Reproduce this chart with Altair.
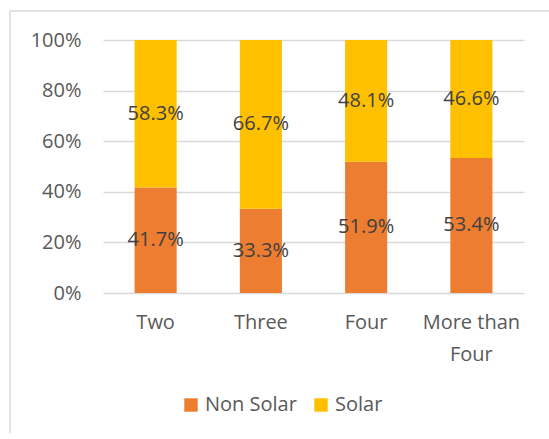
import altair as alt
import pandas as pd

# Share of households by number of members, split by solar adoption
categories = ["Two", "Three", "Four", "More than Four"]
non_solar = [41.7, 33.3, 51.9, 53.4]
solar = [58.3, 66.7, 48.1, 46.6]
series = ["Non Solar", "Solar"]
colors = ["#ED7D31", "#FFC000"]
y_ticks = [0, 0.2, 0.4, 0.6, 0.8, 1.0]

rows = []
for i, cat in enumerate(categories):
    base = 0.0
    for k, (name, vals) in enumerate(zip(series, [non_solar, solar])):
        v = vals[i] / 100
        rows.append({
            "category": cat,
            "series": name,
            "order": k,
            "start": base,
            "end": base + v,
            "mid": base + v / 2,
            "label": f"{vals[i]:.1f}%",
        })
        base += v
df = pd.DataFrame(rows)

FONT = "Open Sans"
SIZE = 20

x_enc = alt.X(
    "category:N",
    sort=categories,
    scale=alt.Scale(paddingInner=0.6, paddingOuter=0.3),
    axis=alt.Axis(
        title=None,
        labelAngle=0,
        ticks=False,
        domain=False,
        labelPadding=19,
        labelFontSize=SIZE,
        labelColor="#595959",
        labelFont=FONT,
        labelLineHeight=32,
        labelExpr="datum.label == 'More than Four' ? ['More than', 'Four'] : datum.label",
    ),
)

bars = alt.Chart(df).mark_bar().encode(
    x=x_enc,
    y=alt.Y(
        "start:Q",
        scale=alt.Scale(domain=[0, 1]),
        axis=alt.Axis(
            title=None,
            values=y_ticks,
            format=".0%",
            ticks=False,
            domain=False,
            labelPadding=22,
            labelFontSize=SIZE,
            labelColor="#595959",
            labelFont=FONT,
            gridColor="#D9D9D9",
            gridWidth=1.5,
        ),
    ),
    y2="end:Q",
    color=alt.Color(
        "series:N",
        scale=alt.Scale(domain=series, range=colors),
        legend=alt.Legend(
            title=None,
            orient="none",
            direction="horizontal",
            legendX=78,
            legendY=355,
            symbolType="square",
            symbolSize=180,
            symbolStrokeWidth=0,
            labelFontSize=SIZE,
            labelColor="#595959",
            labelFont=FONT,
            columnPadding=14,
            labelOffset=4,
        ),
    ),
    order="order:Q",
)

labels = alt.Chart(df).mark_text(
    fontSize=SIZE, color="#404040", font=FONT, baseline="middle"
).encode(
    x=alt.X("category:N", sort=categories),
    y="mid:Q",
    text="label:N",
)

# chart-area frame: only the left and top edges fall inside the page
frame_data = alt.Data(values=[{}])
frame_left = alt.Chart(frame_data).mark_rule(
    color="#D9D9D9", strokeWidth=1.5, clip=False
).encode(x=alt.value(-93), y=alt.value(-29), y2=alt.value(440))
frame_top = alt.Chart(frame_data).mark_rule(
    color="#D9D9D9", strokeWidth=1.5, clip=False
).encode(x=alt.value(-93), x2=alt.value(460), y=alt.value(-29))

chart = alt.layer(frame_left, frame_top, bars, labels).properties(
    width=421,
    height=253,
    autosize=alt.AutoSizeParams(type="none"),
    padding={"left": 103, "top": 40, "right": 25, "bottom": 140},
).configure_view(stroke=None)

chart.save("out.html", embed_options={"renderer": "svg", "actions": False})
